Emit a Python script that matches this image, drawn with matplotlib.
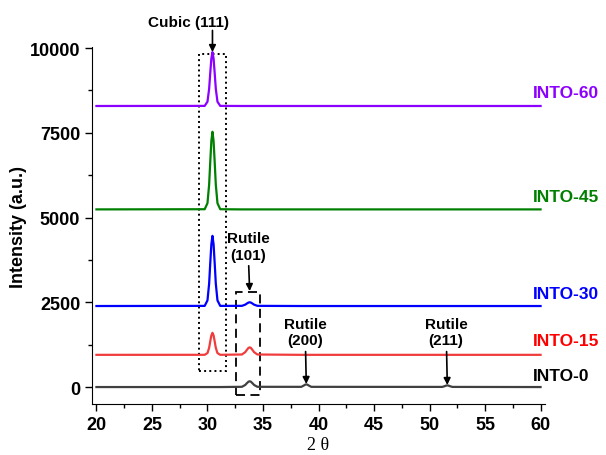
import matplotlib
matplotlib.use('Agg')
import matplotlib.pyplot as plt
from matplotlib.patches import Rectangle
from matplotlib.ticker import MultipleLocator

plt.rcParams['font.family'] = ['Liberation Sans', 'DejaVu Sans']

# 2-theta sample points (deg)
two_theta = [20.0,
             29.75, 30.0, 30.15, 30.25, 30.35, 30.45, 30.55, 30.65, 30.75, 30.9, 31.15,
             33.1, 33.4, 33.55, 33.7, 33.8, 33.9, 34.05, 34.2, 34.5,
             38.45, 38.7, 38.8, 38.9, 39.0, 39.1, 39.35,
             51.15, 51.4, 51.5, 51.6, 51.7, 51.8, 52.05,
             60.0]

into_0 = [0,
          0, 0, 0, 0, 0, 0, 0, 0, 0, 0, 0,
          7, 61, 114, 160, 170, 160, 114, 61, 7,
          6, 49, 70, 80, 70, 49, 6,
          4, 30, 44, 50, 44, 30, 4,
          0]
into_15 = [950,
           951, 1002, 1158, 1347, 1522, 1600, 1522, 1347, 1158, 1002, 951,
           960, 1029, 1097, 1157, 1170, 1157, 1097, 1029, 960,
           950, 950, 950, 950, 950, 950, 950,
           950, 950, 950, 950, 950, 950, 950,
           950]
into_30 = [2390,
           2394, 2556, 3052, 3653, 4212, 4460, 4212, 3653, 3052, 2556, 2394,
           2395, 2430, 2464, 2493, 2500, 2493, 2464, 2430, 2395,
           2390, 2390, 2390, 2390, 2390, 2390, 2390,
           2390, 2390, 2390, 2390, 2390, 2390, 2390,
           2390]
into_45 = [5240,
           5245, 5423, 5973, 6637, 7255, 7530, 7255, 6637, 5973, 5423, 5245,
           5240, 5240, 5240, 5240, 5240, 5240, 5240, 5240, 5240,
           5240, 5240, 5240, 5240, 5240, 5240, 5240,
           5240, 5240, 5240, 5240, 5240, 5240, 5240,
           5240]
into_60 = [8290,
           8293, 8417, 8799, 9260, 9689, 9880, 9689, 9260, 8799, 8417, 8293,
           8290, 8290, 8290, 8290, 8290, 8290, 8290, 8290, 8290,
           8290, 8290, 8290, 8290, 8290, 8290, 8290,
           8290, 8290, 8290, 8290, 8290, 8290, 8290,
           8290]

series = [into_0, into_15, into_30, into_45, into_60]
names = ['INTO-0', 'INTO-15', 'INTO-30', 'INTO-45', 'INTO-60']
line_colors = ['#404040', '#f03c3c', '#0000ff', '#008000', '#8b00ff']
label_colors = ['#000000', '#ff0000', '#0000ff', '#008000', '#8b00ff']
label_y = [350, 1360, 2770, 5630, 8700]

fig = plt.figure(figsize=(6.06, 4.56), dpi=100)
ax = fig.add_axes([92 / 606, 51 / 456, 453 / 606, 357 / 456])

for y, name, lc, tc, ly in zip(series, names, line_colors, label_colors, label_y):
    ax.plot(two_theta, y, color=lc, lw=1.6)
    ax.text(59.3, ly, name, color=tc, fontsize=12.5, fontweight='bold',
            ha='left', va='center', clip_on=False)

ax.set_xlim(19.6, 60.4)
ax.set_ylim(-500, 10030)

ax.xaxis.set_major_locator(MultipleLocator(5))
ax.xaxis.set_minor_locator(MultipleLocator(2.5))
ax.yaxis.set_major_locator(MultipleLocator(2500))
ax.yaxis.set_minor_locator(MultipleLocator(1250))
ax.tick_params(which='major', direction='out', length=5, width=1, labelsize=13)
ax.tick_params(which='minor', direction='out', length=3, width=1)
for lab in ax.get_xticklabels() + ax.get_yticklabels():
    lab.set_fontweight('bold')

ax.spines['top'].set_visible(False)
ax.spines['right'].set_visible(False)

ax.set_ylabel('Intensity (a.u.)', fontsize=13, fontweight='bold', labelpad=2)
ax.set_xlabel('2 θ', fontsize=13, family=['Liberation Serif', 'DejaVu Serif'], labelpad=2)

# boxes around the peaks
ax.add_patch(Rectangle((29.25, 460), 2.4, 9360, fill=False, ls=':', lw=1.4,
                       ec='black', clip_on=False))
ax.add_patch(Rectangle((32.6, -230), 2.1, 3020, fill=False, ls=(0, (5, 3)), lw=1.3,
                       ec='black', clip_on=False))

arrow = dict(arrowstyle='-|>', color='black', lw=1.2, mutation_scale=10,
             shrinkA=1, shrinkB=0)

# cubic label sits left of its arrow
ax.text(28.25, 10780, 'Cubic (111)', ha='center', va='center', fontsize=11,
        fontweight='bold', clip_on=False)
ax.annotate('', xy=(30.45, 9880), xytext=(30.45, 10560),
            arrowprops=arrow, annotation_clip=False)

ax.annotate('Rutile\n(101)', xy=(33.8, 2830), xytext=(33.65, 3700),
            ha='center', va='bottom', fontsize=11, fontweight='bold',
            arrowprops=arrow, annotation_clip=False)
ax.annotate('Rutile\n(200)', xy=(38.9, 90), xytext=(38.8, 1170),
            ha='center', va='bottom', fontsize=11, fontweight='bold',
            arrowprops=arrow, annotation_clip=False)
ax.annotate('Rutile\n(211)', xy=(51.6, 60), xytext=(51.5, 1170),
            ha='center', va='bottom', fontsize=11, fontweight='bold',
            arrowprops=arrow, annotation_clip=False)

fig.savefig('out.png', dpi=100)
